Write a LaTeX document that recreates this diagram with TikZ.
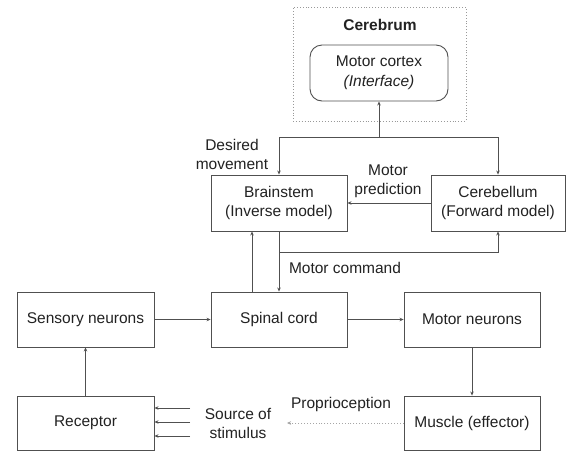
\documentclass[tikz,border=0pt]{standalone}
\usepackage{fontspec}
\setmainfont{Liberation Sans}
\usetikzlibrary{arrows.meta,calc}
\definecolor{ln}{HTML}{505050}
\definecolor{tx}{HTML}{222222}
\tikzset{
  box/.style={draw=ln, line width=0.9pt, rectangle, inner sep=0pt, align=center, text=tx,
    font=\fontsize{15.5}{19.5}\selectfont},
  lbl/.style={inner sep=0pt, align=center, text=tx, font=\fontsize{15.5}{19}\selectfont},
  arr/.style={draw=ln, line width=0.9pt, -{Stealth[length=4pt,width=3.5pt]}},
}
\begin{document}
\begin{tikzpicture}[x=1pt,y=-1pt]
\useasboundingbox (0,0) rectangle (567,451);
\fill[white] (0,0) rectangle (567,451);
% cerebrum frame
\node[draw=gray!80, dotted, line width=0.9pt, minimum width=173pt, minimum height=114pt, inner sep=0pt] (cerebrum) at (379.5,64) {};
\node[lbl, font=\fontsize{15.5}{19}\selectfont\bfseries] (cerlbl) at (380,25) {Cerebrum};
\node[box, rounded corners=12pt, minimum width=138pt, minimum height=56pt] (cortex) at (379,73) {Motor cortex\\\textit{(Interface)}};
% boxes
\node[box, minimum width=136pt, minimum height=56pt] (brainstem) at (279,203) {Brainstem\\(Inverse model)};
\node[box, minimum width=134pt, minimum height=56pt] (cerebellum) at (498,203) {Cerebellum\\(Forward model)};
\node[box, minimum width=137pt, minimum height=55pt] (sensory) at (85.5,319.5) {Sensory neurons};
\node[box, minimum width=136pt, minimum height=55pt] (spinal) at (279,319.5) {Spinal cord};
\node[box, minimum width=136pt, minimum height=55pt] (motorn) at (472,319.5) {Motor neurons};
\node[box, minimum width=137pt, minimum height=54pt] (receptor) at (85.5,423) {Receptor};
\node[box, minimum width=136pt, minimum height=54pt] (muscle) at (472,423) {Muscle (effector)};
% labels
\node[lbl] (desired) at (232,154) {Desired\\movement};
\node[lbl] (pred) at (388,181) {Motor\\prediction};
\node[lbl] (cmd) at (345,268) {Motor command};
\node[lbl] (stim) at (238,423) {Source of\\stimulus};
\node[lbl] (prop) at (341,404) {Proprioception};
% connectors top
\coordinate (j1) at (cortex.south |- 0,137);
\draw[arr] (j1) -- (cortex.south);
\draw[arr] (j1) -| (brainstem.north);
\draw[arr] (j1) -| (cerebellum.north);
\draw[arr] (cerebellum.west) -- (brainstem.east);
\coordinate (j2) at (brainstem.south |- 0,252);
\draw[arr] (brainstem.south) -- (spinal.north);
\draw[arr] (j2) -| (cerebellum.south);
\draw[arr] ([xshift=-27pt]spinal.north) -- ([xshift=-27pt]brainstem.south);
% connectors bottom
\draw[arr] (sensory.east) -- (spinal.west);
\draw[arr] (spinal.east) -- (motorn.west);
\draw[arr] (motorn.south) -- (muscle.north);
\draw[arr] (receptor.north) -- (sensory.south);
\coordinate (s1) at (190,408);
\coordinate (s2) at (190,422);
\coordinate (s3) at (190,436);
\draw[arr] (s1) -- (s1 -| receptor.east);
\draw[arr] (s2) -- (s2 -| receptor.east);
\draw[arr] (s3) -- (s3 -| receptor.east);
\coordinate (pend) at (287,423);
\draw[arr, draw=gray!70, dotted] (muscle.west) -- (pend);
\end{tikzpicture}
\end{document}
